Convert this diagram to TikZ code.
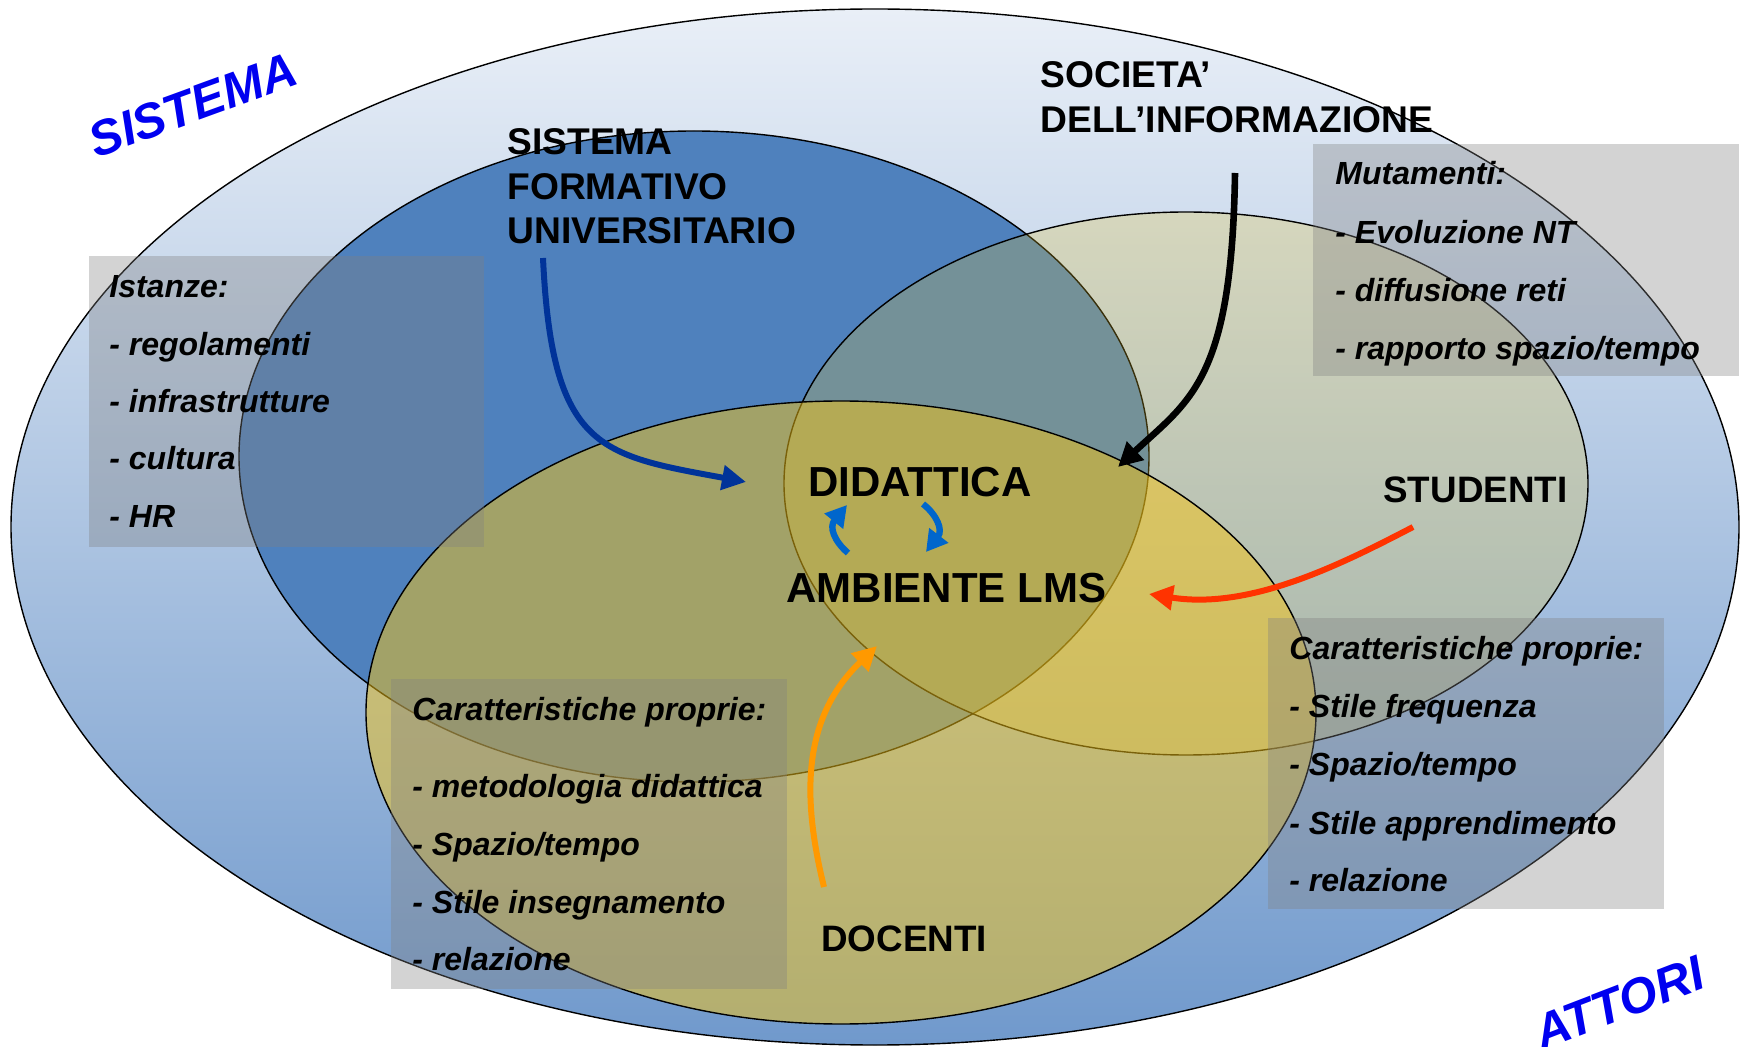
\documentclass[tikz,border=0pt]{standalone}
\usepackage{fontspec}
\setmainfont{Liberation Sans}
\usetikzlibrary{arrows.meta}
\definecolor{gtop}{RGB}{233,239,247}
\definecolor{gbot}{RGB}{112,153,204}
\definecolor{sysblue}{RGB}{79,129,189}
\definecolor{beigefill}{RGB}{228,195,45}
\definecolor{goldfill}{RGB}{245,195,20}
\definecolor{boxgray}{RGB}{128,128,128}
\definecolor{wordblue}{RGB}{0,0,240}
\definecolor{darkblue}{RGB}{0,51,153}
\definecolor{midblue}{RGB}{0,102,204}
\definecolor{redor}{RGB}{255,51,0}
\definecolor{docorange}{RGB}{255,153,0}
\begin{document}
\begin{tikzpicture}[x=0.5pt,y=-0.5pt,
  edge/.style={draw=black,line width=0.7pt},
  graybox/.style={fill=boxgray,fill opacity=0.35},
  biglbl/.style={anchor=base west,inner sep=0pt,font=\bfseries\fontsize{18.6}{22.5}\selectfont},
  centerlbl/.style={anchor=base west,inner sep=0pt,font=\bfseries\fontsize{21}{21}\selectfont},
  actorlbl/.style={anchor=base west,inner sep=0pt,font=\bfseries\fontsize{18.4}{18}\selectfont},
  boxtxt/.style={anchor=base west,inner sep=0pt,font=\bfseries\itshape\fontsize{16}{16}\selectfont},
  wordart/.style={inner sep=0pt,text=wordblue,font=\bfseries\itshape\fontsize{24.5}{24.5}\selectfont},
  bigarrow/.style={line width=3pt,-{Triangle[length=12pt,width=12pt]}},
  smallarrow/.style={line width=3.2pt,draw=midblue,-{Triangle[length=10.5pt,width=11.5pt]}}
]
\useasboundingbox (0,0) rectangle (1746,1047);

% outer ellipse
\shade[top color=gtop,bottom color=gbot] (875,527) ellipse [x radius=864, y radius=518];
\draw[edge] (875,527) ellipse [x radius=864, y radius=518];
% sistema formativo ellipse
\filldraw[fill=sysblue,edge] (694,456.5) ellipse [x radius=455, y radius=325.5];
% societa ellipse
\path[fill=beigefill,fill opacity=0.25,edge] (1186,483.5) ellipse [x radius=402, y radius=271.5];
% docenti ellipse
\path[fill=goldfill,fill opacity=0.5,edge] (841,712.5) ellipse [x radius=475, y radius=311.5];

% gray boxes
\path[graybox] (89,256) rectangle (484,547);
\path[graybox] (1313,144) rectangle (1739,376);
\path[graybox] (391,679) rectangle (787,989);
\path[graybox] (1268,618) rectangle (1664,909);

% word art
\node[wordart,rotate=20] (sistema) at (193,105) {SISTEMA};
\node[wordart,rotate=21] (attori) at (1619,1003) {ATTORI};

% labels
\node[biglbl] (sf1) at (507,155) {SISTEMA};
\node[biglbl] (sf2) at (507,199.5) {FORMATIVO};
\node[biglbl] (sf3) at (507,244) {UNIVERSITARIO};
\node[biglbl] (so1) at (1040,88) {SOCIETA’};
\node[biglbl] (so2) at (1040,133) {DELL’INFORMAZIONE};
\node[centerlbl] (did) at (808,497) {DIDATTICA};
\node[centerlbl] (lms) at (786,603) {AMBIENTE LMS};
\node[actorlbl] (stu) at (1383,503) {STUDENTI};
\node[actorlbl] (doc) at (821,951) {DOCENTI};

% box texts
\node[boxtxt] (i0) at (109,298) {Istanze:};
\node[boxtxt] (i1) at (109,355.3) {- regolamenti};
\node[boxtxt] (i2) at (109,412.6) {- infrastrutture};
\node[boxtxt] (i3) at (109,469.9) {- cultura};
\node[boxtxt] (i4) at (109,527.2) {- HR};

\node[boxtxt] (m0) at (1335,185) {Mutamenti:};
\node[boxtxt] (m1) at (1335,244) {- Evoluzione NT};
\node[boxtxt] (m2) at (1335,302) {- diffusione reti};
\node[boxtxt] (m3) at (1335,360) {- rapporto spazio/tempo};

\node[boxtxt] (d0) at (412,720) {Caratteristiche proprie:};
\node[boxtxt] (d1) at (412,797) {- metodologia didattica};
\node[boxtxt] (d2) at (412,855) {- Spazio/tempo};
\node[boxtxt] (d3) at (412,913) {- Stile insegnamento};
\node[boxtxt] (d4) at (412,970) {- relazione};

\node[boxtxt] (s0) at (1289,660) {Caratteristiche proprie:};
\node[boxtxt] (s1) at (1289,718) {- Stile frequenza};
\node[boxtxt] (s2) at (1289,776) {- Spazio/tempo};
\node[boxtxt] (s3) at (1289,834) {- Stile apprendimento};
\node[boxtxt] (s4) at (1289,891) {- relazione};

% arrow end points
\coordinate (sfA) at (543,258);
\coordinate (sfB) at (746,482);
\coordinate (soA) at (1235,173);
\coordinate (soB) at (1118,467);
\coordinate (stA) at (1413,527);
\coordinate (stB) at (1149,594);
\coordinate (doA) at (824,887);
\coordinate (doB) at (877,646);
\coordinate (luA) at (848,553);
\coordinate (luB) at (847,505);
\coordinate (rdA) at (923,504);
\coordinate (rdB) at (926,552);

% arrows
\draw[bigarrow,draw=darkblue] (sfA) .. controls (552,450) and (600,455) .. (sfB);
\draw[bigarrow,draw=black,line width=3.3pt] (soA) .. controls (1232,380) and (1190,400) .. (soB);
\draw[bigarrow,draw=redor] (stA) .. controls (1340,565) and (1250,610) .. (stB);
\draw[bigarrow,draw=docorange] (doA) .. controls (800,790) and (805,715) .. (doB);
\draw[smallarrow] (luA) .. controls (834,541) and (829,527) .. (luB);
\draw[smallarrow] (rdA) .. controls (937,515) and (943,530) .. (rdB);
\end{tikzpicture}
\end{document}
